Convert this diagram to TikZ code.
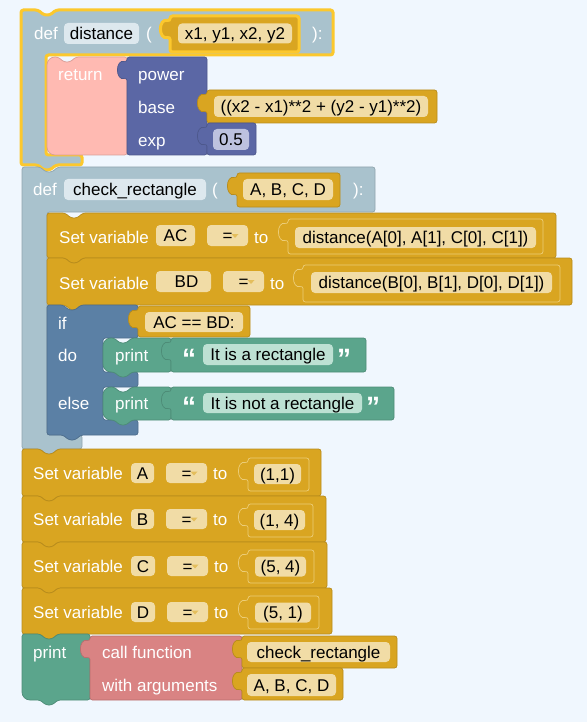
\documentclass[tikz,border=0pt]{standalone}
\usepackage{fontspec}
\setmainfont{Liberation Sans}
\definecolor{bgc}{RGB}{240,247,254}
\definecolor{defgrey}{RGB}{169,194,205}
\definecolor{selyel}{RGB}{252,200,45}
\definecolor{gold}{RGB}{217,165,33}
\definecolor{goldfld}{RGB}{241,220,166}
\definecolor{goldhi}{RGB}{236,205,120}
\definecolor{retpink}{RGB}{255,186,178}
\definecolor{powblue}{RGB}{91,103,165}
\definecolor{powfld}{RGB}{189,194,223}
\definecolor{ifblue}{RGB}{91,128,165}
\definecolor{prgreen}{RGB}{91,165,140}
\definecolor{prfld}{RGB}{189,225,211}
\definecolor{callred}{RGB}{217,131,131}
\definecolor{namefld}{RGB}{221,232,238}
\newcommand{\lbfont}{\fontsize{17}{20}\selectfont}
% notch on top edge, tab on bottom edge, output tab on left edge
\newcommand{\notchtop}[2]{-- (#1,#2) -- (#1+6,#2+5) -- (#1+12,#2+5) -- (#1+18,#2)}
\newcommand{\tabbot}[2]{-- (#1+18,#2) -- (#1+12,#2+5) -- (#1+6,#2+5) -- (#1,#2)}
\newcommand{\tabin}[2]{-- (#1,#2+21) .. controls (#1-12,#2+24) and (#1-12,#2+2) .. (#1,#2+5)}
\tikzset{
  blk/.style={line width=0.7pt, rounded corners=2.5pt},
  defblk/.style={blk, fill=defgrey, draw=defgrey!85!black},
  goldblk/.style={blk, fill=gold, draw=gold!85!black},
  valblk/.style={blk, fill=gold, draw=goldhi},
  retblk/.style={blk, fill=retpink, draw=retpink!85!black},
  powblk/.style={blk, fill=powblue, draw=powblue!85!black},
  ifblk/.style={blk, fill=ifblue, draw=ifblue!85!black},
  prblk/.style={blk, fill=prgreen, draw=prgreen!85!black},
  callblk/.style={blk, fill=callred, draw=callred!85!black},
  sel/.style={draw=selyel, line width=3pt},
  lbl/.style={anchor=west, inner sep=0pt, text height=12.2pt, text depth=0pt, font=\lbfont, text=white},
  quot/.style={anchor=base west, inner sep=0pt, text=white, font=\fontsize{28}{30}\selectfont\bfseries},
  fld/.style={rounded corners=4pt, inner sep=0pt, text height=12.2pt, text depth=0pt, font=\lbfont, text=black},
  goldf/.style={fld, fill=goldfld},
  powf/.style={fld, fill=powfld},
  prf/.style={fld, fill=prfld},
  namef/.style={fld, fill=namefld},
  drop/.style={fill=gold!55!goldfld},
}
\begin{document}
\begin{tikzpicture}[x=1pt,y=-1pt]
\fill[bgc] (0,0) rectangle (587,722);
\useasboundingbox (0,0) rectangle (587,722);
% def distance
\draw[defblk, sel] (21,10) \notchtop{38}{10} -- (333,10) -- (333,55) -- (46,55) -- (46,155) -- (82,155) -- (82,165) \tabbot{38}{165} -- (21,165) -- cycle;
\draw[retblk] (47,100) [rounded corners=8pt] -- (47,57) [rounded corners=2.5pt] \notchtop{58}{57} -- (127,57) -- (127,155) [rounded corners=8pt] -- (47,155) -- cycle;
\draw[powblk] (127,57) -- (207,57) -- (207,155) -- (127,155) \tabin{127}{57} -- cycle;
\draw[goldblk] (207,90) -- (437,90) -- (437,123) -- (207,123) \tabin{207}{90} -- cycle;
\draw[powblk] (207,123) -- (256,123) -- (256,155) -- (207,155) \tabin{207}{123} -- cycle;
\draw[goldblk, sel] (170,16) -- (299,16) -- (299,52) -- (170,52) \tabin{170}{16} -- cycle;
\node[lbl] (def1) at (34,33) {def};
\node[namef, minimum width=75, minimum height=21] (fname1) at (101.5,33.5) {distance};
\node[lbl] (lpar1) at (146,33) {(};
\node[goldf, minimum width=114, minimum height=20] (args1) at (235,33.5) {x1, y1, x2, y2};
\node[lbl] (rpar1) at (312,33) {):};
\node[lbl] (ret) at (58,74) {return};
\node[lbl] (pow) at (138,74) {power};
\node[lbl] (base) at (138,107) {base};
\node[lbl] (exp) at (138,140) {exp};
\node[goldf, minimum width=214, minimum height=21] (baseval) at (321,106.5) {((x2 - x1)**2 + (y2 - y1)**2)};
\node[powf, minimum width=36, minimum height=21] (expval) at (231,139.5) {0.5};
% def check_rectangle
\draw[defblk] (22,167) \notchtop{40}{167} -- (375,167) -- (375,212) -- (47,212) -- (47,435) -- (82,435) -- (82,449) \tabbot{40}{449} -- (22,449) -- cycle;
\draw[goldblk] (237,173) -- (340,173) -- (340,207) -- (237,207) \tabin{237}{173} -- cycle;
\node[lbl] (def2) at (33,189) {def};
\node[namef, minimum width=142, minimum height=21] (fname2) at (135,189.5) {check\_rectangle};
\node[lbl] (lpar2) at (212,189) {(};
\node[goldf, minimum width=90, minimum height=21] (args2) at (288,189.5) {A, B, C, D};
\node[lbl] (rpar2) at (353,189) {):};
% set AC
\draw[goldblk] (47,213) \notchtop{65}{213} -- (556,213) -- (556,258) \tabbot{65}{258} -- (47,258) -- cycle;
\draw[valblk] (288,219) -- (543,219) -- (543,254) -- (288,254) \tabin{288}{219} -- cycle;
\node[lbl] (setAC) at (59,237) {Set variable};
\node[goldf, minimum width=39, minimum height=21] (vAC) at (175.5,235.5) {AC};
\node[goldf, minimum width=41, minimum height=21] (opAC) at (227.5,235.5) {=\hspace{17pt}};
\fill[drop] ([shift={(4,-1.5)}]opAC.center) -- ++(7,0) -- ++(-3.5,4) -- cycle;
\node[lbl] (toAC) at (254,237) {to};
\node[goldf, minimum width=241, minimum height=21] (valAC) at (415.5,237.5) {distance(A[0], A[1], C[0], C[1])};
% set BD
\draw[goldblk] (47,258) \notchtop{65}{258} -- (572,258) -- (572,305) \tabbot{65}{305} -- (47,305) -- cycle;
\draw[valblk] (303,265) -- (560,265) -- (560,302) -- (303,302) \tabin{303}{265} -- cycle;
\node[lbl] (setBD) at (59,283) {Set variable};
\node[goldf, minimum width=55, minimum height=21] (vBD) at (183.5,281.5) {\hspace{6pt}BD};
\node[goldf, minimum width=41, minimum height=21] (opBD) at (243.5,281.5) {=\hspace{17pt}};
\fill[drop] ([shift={(4,-1.5)}]opBD.center) -- ++(7,0) -- ++(-3.5,4) -- cycle;
\node[lbl] (toBD) at (270,283) {to};
\node[goldf, minimum width=241, minimum height=21] (valBD) at (431.5,282.5) {distance(B[0], B[1], D[0], D[1])};
% if / else
\draw[ifblk] (47,305) \notchtop{63}{305} -- (138,305) -- (138,338) -- (103,338) -- (103,372) -- (138,372) -- (138,387) -- (103,387) -- (103,420) -- (138,420) -- (138,435) \tabbot{63}{435} -- (47,435) -- cycle;
\draw[goldblk] (138,306) -- (250,306) -- (250,337) -- (138,337) \tabin{138}{306} -- cycle;
\node[lbl] (if) at (58,323) {if};
\node[lbl] (do) at (58,355) {do};
\node[lbl] (else) at (58,403) {else};
\node[goldf, minimum width=98, minimum height=20] (cond) at (194,322) {AC == BD:};
\draw[prblk] (103,355) [rounded corners=8pt] -- (103,338) [rounded corners=2.5pt] \notchtop{114}{338} -- (171,338) -- (171,372) \tabbot{114}{372} [rounded corners=8pt] -- (103,372) -- cycle;
\draw[prblk] (171,338) -- (366,338) -- (366,372) -- (171,372) \tabin{171}{338} -- cycle;
\node[lbl] (pr1) at (115,355) {print};
\node[quot] (lq1) at (182,368) {“};
\node[prf, minimum width=130, minimum height=21] (str1) at (268,354.5) {It is a rectangle};
\node[quot] (rq1) at (337,368) {”};
\draw[prblk] (103,403) [rounded corners=8pt] -- (103,387) [rounded corners=2.5pt] \notchtop{114}{387} -- (171,387) -- (171,420) \tabbot{114}{420} [rounded corners=8pt] -- (103,420) -- cycle;
\draw[prblk] (171,387) -- (394,387) -- (394,420) -- (171,420) \tabin{171}{387} -- cycle;
\node[lbl] (pr2) at (115,403) {print};
\node[quot] (lq2) at (182,416) {“};
\node[prf, minimum width=159, minimum height=20] (str2) at (282.5,403) {It is not a rectangle};
\node[quot] (rq2) at (366,416) {”};
% set A, B, C, D
\draw[goldblk] (22,449) \notchtop{40}{449} -- (321,449) -- (321,496) \tabbot{40}{496} -- (22,496) -- cycle;
\draw[valblk] (248,458) -- (309,458) -- (309,491) -- (248,491) \tabin{248}{458} -- cycle;
\node[lbl] (setA) at (33,473) {Set variable};
\node[goldf, minimum width=23, minimum height=20] (vA) at (142.5,473) {A};
\node[goldf, minimum width=41, minimum height=20] (opA) at (186.5,473) {=\hspace{17pt}};
\fill[drop] ([shift={(4,-1.5)}]opA.center) -- ++(7,0) -- ++(-3.5,4) -- cycle;
\node[lbl] (toA) at (213,473) {to};
\node[goldf, minimum width=47, minimum height=20] (valA) at (277.5,474) {(1,1)};
\draw[goldblk] (22,496) \notchtop{40}{496} -- (326,496) -- (326,542) \tabbot{40}{542} -- (22,542) -- cycle;
\draw[valblk] (248,504) -- (313,504) -- (313,537) -- (248,537) \tabin{248}{504} -- cycle;
\node[lbl] (setB) at (33,519) {Set variable};
\node[goldf, minimum width=23, minimum height=20] (vB) at (142.5,519) {B};
\node[goldf, minimum width=41, minimum height=20] (opB) at (186.5,519) {=\hspace{17pt}};
\fill[drop] ([shift={(4,-1.5)}]opB.center) -- ++(7,0) -- ++(-3.5,4) -- cycle;
\node[lbl] (toB) at (213,519) {to};
\node[goldf, minimum width=51, minimum height=20] (valB) at (279.5,520) {(1, 4)};
\draw[goldblk] (22,542) \notchtop{40}{542} -- (327,542) -- (327,588) \tabbot{40}{588} -- (22,588) -- cycle;
\draw[valblk] (248,550) -- (314,550) -- (314,583) -- (248,583) \tabin{248}{550} -- cycle;
\node[lbl] (setC) at (33,566) {Set variable};
\node[goldf, minimum width=24, minimum height=20] (vC) at (143,566) {C};
\node[goldf, minimum width=41, minimum height=20] (opC) at (187.5,566) {=\hspace{17pt}};
\fill[drop] ([shift={(4,-1.5)}]opC.center) -- ++(7,0) -- ++(-3.5,4) -- cycle;
\node[lbl] (toC) at (214,566) {to};
\node[goldf, minimum width=51, minimum height=20] (valC) at (280.5,566.5) {(5, 4)};
\draw[goldblk] (22,588) \notchtop{40}{588} -- (332,588) -- (332,634) \tabbot{40}{634} -- (22,634) -- cycle;
\draw[valblk] (248,596) -- (319,596) -- (319,629) -- (248,629) \tabin{248}{596} -- cycle;
\node[lbl] (setD) at (33,612) {Set variable};
\node[goldf, minimum width=24, minimum height=20] (vD) at (143,612) {D};
\node[goldf, minimum width=41, minimum height=20] (opD) at (187.5,612) {=\hspace{17pt}};
\fill[drop] ([shift={(4,-1.5)}]opD.center) -- ++(7,0) -- ++(-3.5,4) -- cycle;
\node[lbl] (toD) at (214,612) {to};
\node[goldf, minimum width=56, minimum height=20] (valD) at (283,612.5) {(5, 1)};
% print call function
\draw[prblk] (22,667) -- (22,634) \notchtop{40}{634} -- (90,634) -- (90,700) \tabbot{40}{700} [rounded corners=8pt] -- (22,700) -- cycle;
\draw[callblk] (90,636) -- (242,636) -- (242,700) -- (90,700) \tabin{90}{636} -- cycle;
\draw[goldblk] (242,636) -- (397,636) -- (397,668) -- (242,668) \tabin{242}{636} -- cycle;
\draw[goldblk] (242,668) -- (343,668) -- (343,700) -- (242,700) \tabin{242}{668} -- cycle;
\node[lbl] (pr3) at (33,652) {print};
\node[lbl] (call) at (102,652) {call function};
\node[lbl] (with) at (102,685) {with arguments};
\node[goldf, minimum width=143, minimum height=20] (fn) at (318.5,652) {check\_rectangle};
\node[goldf, minimum width=89, minimum height=22] (argv) at (291.5,685) {A, B, C, D};
\end{tikzpicture}
\end{document}
